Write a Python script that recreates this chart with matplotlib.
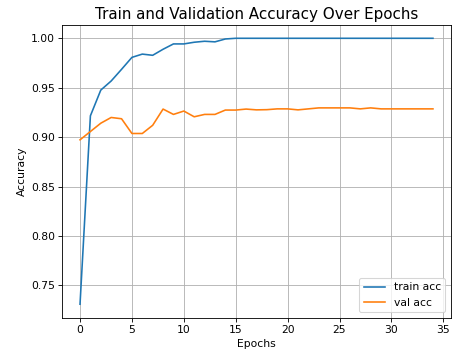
import matplotlib
matplotlib.use("Agg")
import matplotlib.pyplot as plt

epochs = list(range(35))
train_acc = [0.731, 0.9216, 0.9476, 0.9568, 0.9686, 0.9807, 0.984, 0.9828, 0.9889, 0.9943,
             0.9943, 0.996, 0.997, 0.9964, 0.9993, 1.0, 1.0, 1.0, 1.0, 1.0,
             1.0, 1.0, 1.0, 1.0, 1.0, 1.0, 1.0, 1.0, 1.0, 1.0,
             1.0, 1.0, 1.0, 1.0, 1.0]
val_acc = [0.8973, 0.9057, 0.9141, 0.9199, 0.9186, 0.9037, 0.9037, 0.912, 0.9284, 0.923,
           0.9264, 0.9206, 0.923, 0.923, 0.9274, 0.9274, 0.9284, 0.9276, 0.9278, 0.9286,
           0.9286, 0.9276, 0.9286, 0.9296, 0.9296, 0.9296, 0.9296, 0.9286, 0.9296, 0.9286,
           0.9286, 0.9286, 0.9286, 0.9286, 0.9286]

DPI = 77.5
fig = plt.figure(figsize=(453 / DPI, 356 / DPI), dpi=DPI)
ax = fig.add_axes([0.1377, 0.1081, 0.857, 0.8217])
ax.plot(epochs, train_acc, label="train acc")
ax.plot(epochs, val_acc, label="val acc")
ax.set_title("Train and Validation Accuracy Over Epochs", fontsize=14)
ax.set_xlabel("Epochs")
ax.set_ylabel("Accuracy")
ax.legend(loc="lower right")
ax.grid(True)
fig.savefig("out.png", dpi=DPI)
